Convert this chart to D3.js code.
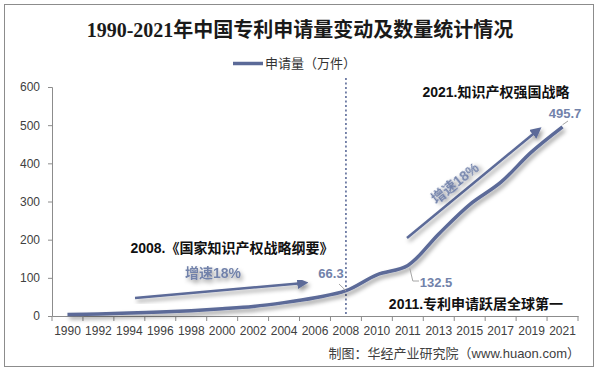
<!DOCTYPE html>
<html>
<head>
<meta charset="utf-8">
<script src="https://cdn.jsdelivr.net/npm/d3@7"></script>
<style>
  body { margin: 0; background: #fff; }
  svg { display: block; font-family: 'Liberation Sans', 'Noto Sans CJK SC', sans-serif; }
</style>
</head>
<body>
<div id="chart"></div>
<script>
const dimentions = { width: 600, height: 374 }
const margin = { top: 87, right: 22, bottom: 58, left: 52 }

const years = ['1990', '1992', '1994', '1996', '1998', '2000', '2002', '2004', '2006', '2008',
  '2010', '2011', '2013', '2015', '2017', '2019', '2021']
const applications = [4, 5.5, 8, 10.5, 14, 19, 25, 35, 48, 66.3, 108, 132.5, 215, 292, 350, 430, 495.7]
const yTicks = [0, 100, 200, 300, 400, 500, 600]

const lineColor = '#5b6a98'
const labelColor = '#7282aa'
const sansFont = "'Liberation Sans', 'Noto Sans CJK SC', sans-serif"

const svg = d3.select('#chart')
  .append('svg')
  .attr('width', dimentions.width)
  .attr('height', dimentions.height)

const defs = svg.append('defs')

defs.append('filter')
  .attr('id', 'shadow')
  .attr('x', '-20%').attr('y', '-20%')
  .attr('width', '140%').attr('height', '160%')
  .append('feDropShadow')
  .attr('dx', 2).attr('dy', 3)
  .attr('stdDeviation', 2)
  .attr('flood-color', '#000')
  .attr('flood-opacity', 0.4)

defs.append('marker')
  .attr('id', 'arrow')
  .attr('viewBox', '0 0 10 10')
  .attr('refX', 6).attr('refY', 5)
  .attr('markerWidth', 4.5).attr('markerHeight', 4.5)
  .attr('orient', 'auto')
  .append('path')
  .attr('d', 'M0,0 L10,5 L0,10 z')
  .attr('fill', lineColor)

// outer frame
svg.append('rect')
  .attr('x', 4.5).attr('y', 4.5)
  .attr('width', 589).attr('height', 362)
  .attr('fill', 'none')
  .attr('stroke', '#8c8c8c')

svg.append('text')
  .attr('x', 300).attr('y', 37)
  .attr('text-anchor', 'middle')
  .style('font-family', "'Liberation Serif', 'Noto Sans CJK SC', serif")
  .style('font-size', '20px')
  .style('font-weight', 'bold')
  .attr('fill', '#1a1a1a')
  .text('1990-2021年中国专利申请量变动及数量统计情况')

// legend
svg.append('line')
  .attr('x1', 233).attr('x2', 263)
  .attr('y1', 63.5).attr('y2', 63.5)
  .attr('stroke', lineColor)
  .attr('stroke-width', 3.5)

svg.append('text')
  .attr('x', 265).attr('y', 68)
  .style('font-size', '13px')
  .attr('fill', '#333')
  .text('申请量（万件）')

const x = d3.scaleBand()
  .domain(years)
  .range([margin.left, dimentions.width - margin.right])

const y = d3.scaleLinear()
  .domain([0, 600])
  .range([dimentions.height - margin.bottom, margin.top])

const xAxis = svg.append('g')
  .attr('transform', `translate(0, ${y(0)})`)
  .call(d3.axisBottom(x).tickSize(0).tickPadding(10))

xAxis.selectAll('.tick line').remove()
xAxis.select('.domain').attr('stroke', '#8c8c8c')
xAxis.selectAll('text')
  .style('font-size', '12px')
  .style('font-family', "'Liberation Sans', sans-serif")
  .attr('fill', '#404040')

// ticks between categories
svg.append('g')
  .selectAll('line')
  .data(years.concat(['end']))
  .join('line')
  .attr('x1', (d, i) => margin.left + i * x.step())
  .attr('x2', (d, i) => margin.left + i * x.step())
  .attr('y1', y(0)).attr('y2', y(0) + 5)
  .attr('stroke', '#8c8c8c')

const yAxis = svg.append('g')
  .attr('transform', `translate(${margin.left}, 0)`)
  .call(d3.axisLeft(y).tickValues(yTicks).tickSize(4).tickPadding(8))

yAxis.select('.domain').attr('stroke', '#8c8c8c')
yAxis.selectAll('.tick line').attr('stroke', '#8c8c8c')
yAxis.selectAll('text')
  .style('font-size', '12px')
  .style('font-family', "'Liberation Sans', sans-serif")
  .attr('fill', '#404040')

const cx = d => x(d) + x.bandwidth() / 2

// 2008 marker
svg.append('line')
  .attr('x1', cx('2008')).attr('x2', cx('2008'))
  .attr('y1', 78).attr('y2', y(0))
  .attr('stroke', '#5b6a98')
  .attr('stroke-width', 1.6)
  .attr('stroke-dasharray', '2 2.5')

const line = d3.line()
  .x((d, i) => cx(years[i]))
  .y(d => y(d))
  .curve(d3.curveCatmullRom.alpha(0.5))

svg.append('path')
  .datum(applications)
  .attr('d', line)
  .attr('fill', 'none')
  .attr('stroke', lineColor)
  .attr('stroke-width', 3.5)
  .attr('filter', 'url(#shadow)')

// trend arrows
const arrows = [
  { from: [135, 298], to: [304, 283] },
  { from: [407, 238], to: [538, 130] }
]

svg.append('g')
  .selectAll('line')
  .data(arrows)
  .join('line')
  .attr('x1', d => d.from[0]).attr('y1', d => d.from[1])
  .attr('x2', d => d.to[0]).attr('y2', d => d.to[1])
  .attr('stroke', lineColor)
  .attr('stroke-width', 2.5)
  .attr('marker-end', 'url(#arrow)')
  .attr('filter', 'url(#shadow)')

svg.append('text')
  .attr('x', 213).attr('y', 278)
  .attr('text-anchor', 'middle')
  .style('font-family', sansFont)
  .style('font-size', '14px')
  .style('font-weight', 'bold')
  .attr('fill', labelColor)
  .attr('filter', 'url(#shadow)')
  .text('增速18%')

svg.append('text')
  .attr('transform', 'translate(458, 187) rotate(-38)')
  .attr('text-anchor', 'middle')
  .style('font-family', sansFont)
  .style('font-size', '14px')
  .style('font-weight', 'bold')
  .attr('fill', labelColor)
  .attr('filter', 'url(#shadow)')
  .text('增速18%')

// milestone notes
const notes = [
  { text: '2008.《国家知识产权战略纲要》', x: 232, y: 253 },
  { text: '2021.知识产权强国战略', x: 496, y: 97 },
  { text: '2011.专利申请跃居全球第一', x: 476, y: 309 }
]

svg.append('g')
  .selectAll('text')
  .data(notes)
  .join('text')
  .attr('x', d => d.x).attr('y', d => d.y)
  .attr('text-anchor', 'middle')
  .style('font-family', sansFont)
  .style('font-size', '14px')
  .style('font-weight', 'bold')
  .attr('fill', '#111')
  .text(d => d.text)

// value labels with leader lines
const valueLabels = [
  { year: '2008', text: '66.3', x: 331, y: 278, leader: [[339, 284], [cx('2008'), y(66.3)]] },
  { year: '2011', text: '132.5', x: 436, y: 287, leader: [[cx('2011') + 2, y(132.5) + 3], [cx('2011') + 5, 281], [419, 281]] },
  { year: '2021', text: '495.7', x: 565, y: 118, leader: [[568, 121], [cx('2021'), y(495.7) - 2]] }
]

svg.append('g')
  .selectAll('path')
  .data(valueLabels)
  .join('path')
  .attr('d', d => d3.line()(d.leader))
  .attr('fill', 'none')
  .attr('stroke', '#a6a6a6')
  .attr('stroke-width', 1)

svg.append('g')
  .selectAll('text')
  .data(valueLabels)
  .join('text')
  .attr('x', d => d.x).attr('y', d => d.y)
  .attr('text-anchor', 'middle')
  .style('font-family', sansFont)
  .style('font-size', '13px')
  .style('font-weight', 'bold')
  .attr('fill', labelColor)
  .text(d => d.text)

svg.append('text')
  .attr('x', 580).attr('y', 358)
  .attr('text-anchor', 'end')
  .style('font-size', '13px')
  .attr('fill', '#404040')
  .text('制图：华经产业研究院（www.huaon.com）')
</script>
</body>
</html>
